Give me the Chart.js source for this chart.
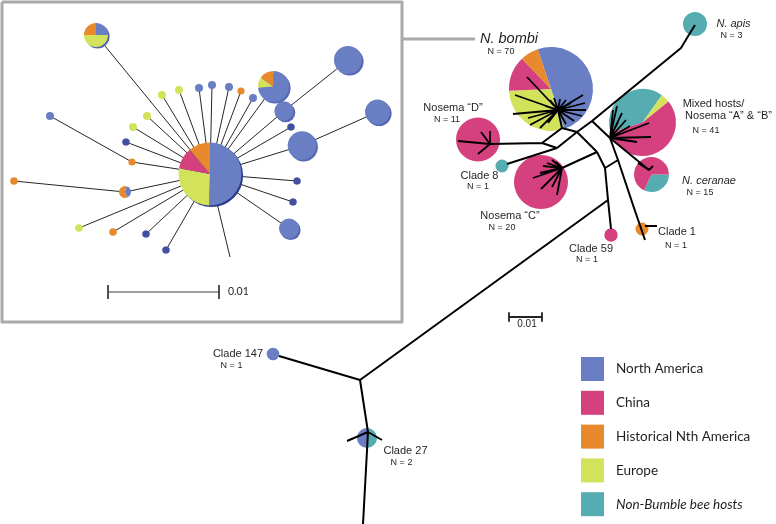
<!DOCTYPE html>
<html>
<head>
<meta charset="utf-8">
<script src="https://cdn.jsdelivr.net/npm/chart.js@4.4.1/dist/chart.umd.min.js"></script>
<style>
  html, body { margin: 0; padding: 0; background: #fff; }
  #wrap { width: 776px; height: 524px; position: relative; }
</style>
</head>
<body>
<div id="wrap"><canvas id="tree"></canvas></div>
<script>
// ─── DATA ──────────────────────────────────────────
// regions (legend order)
const regions = ['North America', 'China', 'Historical Nth America', 'Europe', 'Non-Bumble bee hosts'];

// main network clades
const cladeNames = ['N. bombi', 'Nosema “D”', 'Clade 8', 'Nosema “C”', 'Mixed hosts/', 'N. ceranae', 'Clade 59', 'Clade 1', 'N. apis', 'Clade 147', 'Clade 27'];
const cladeN = [70, 11, 1, 20, 41, 15, 1, 1, 3, 1, 2];
const cladeX = [551, 478, 502, 541, 642.5, 651.5, 611, 642, 695, 273, 367];
const cladeY = [89, 139.5, 166, 182, 122.5, 174.5, 235, 229, 24, 354, 438];
const cladeSize = [42, 22, 6.5, 27, 33.5, 17.5, 6.7, 6.5, 12, 6.3, 10];
// shares per region: NA, China, Hist, Europe, Non-bumble
const cladeShares = [
  [0.5, 0.135, 0.07, 0.295, 0],
  [0, 1, 0, 0, 0],
  [0, 0, 0, 0, 1],
  [0, 1, 0, 0, 0],
  [0, 0.558, 0, 0.044, 0.398],
  [0, 0.68, 0, 0, 0.32],
  [0, 1, 0, 0, 0],
  [0, 0, 1, 0, 0],
  [0, 0, 0, 0, 1],
  [1, 0, 0, 0, 0],
  [0.5, 0, 0, 0, 0.5],
];
const cladeStart = [341.5, 0, 0, 0, 252, 90, 0, 0, 0, 0, 180];

// network edges (polylines, x/y pairs)
const treePaths = [
  [695, 25, 687, 38, 681, 48, 592, 121],
  [592, 121, 610, 138],
  [592, 121, 577, 132],
  [558, 110, 562, 128],
  [562, 128, 577, 132],
  [562, 128, 542, 143],
  [542, 143, 490, 144],
  [542, 143, 557, 148],
  [557, 148, 577, 132],
  [557, 148, 507, 164],
  [577, 132, 597, 152],
  [597, 152, 562, 168],
  [597, 152, 605, 168, 608, 200, 611, 229],
  [605, 168, 618, 160],
  [610, 138, 618, 160, 633, 205, 645, 240],
  [645, 226, 657, 226],
  [610, 138, 649, 170],
  [608, 200, 360, 380],
  [360, 380, 279, 356],
  [360, 380, 368, 432, 363, 524],
  [347, 441, 368, 432, 382, 440],
];

// haplotype stars inside clades: centre + spoke ends
const starCentres = [[558, 110], [490, 144], [562, 168], [610, 138], [649, 170]];
const starEnds = [
  [527, 77, 515, 95, 513, 114, 530, 125, 540, 128, 548, 123, 583, 95, 585, 103, 586, 110, 582, 116, 574, 121, 566, 124,
   550, 100, 554, 98, 560, 99, 566, 100, 571, 103, 545, 106, 536, 112, 528, 118],
  [458, 141, 478, 154, 481, 132, 490, 131],
  [533, 178, 541, 189, 557, 195, 552, 187, 547, 163, 552, 160, 556, 162, 543, 166, 540, 173],
  [613, 110, 617, 106, 622, 113, 626, 120, 630, 126, 649, 123, 651, 137, 637, 142, 618, 122],
  [638, 163, 643, 166, 653, 166],
];

// inset: N. bombi haplotypes
const insetX = [210, 96, 273.5, 284, 348, 302, 377.5, 289, 162, 179, 199, 212, 229, 241, 253, 291, 297, 293, 147, 133, 126, 132, 50, 125, 14, 79, 113, 146, 166];
const insetY = [174, 35, 86.5, 111, 60, 145.5, 112, 228.5, 95, 90, 88, 85, 87, 91, 98, 127, 181, 202, 116, 127, 142, 162, 116, 192, 181, 228, 232, 234, 250];
const insetSize = [31.5, 12, 15.5, 9.7, 14, 14.3, 12.5, 10, 4, 4, 4, 4, 4, 3.6, 4, 3.6, 3.6, 3.6, 4, 4, 3.6, 3.6, 4, 6, 3.8, 3.8, 3.8, 3.6, 3.6];
const insetParent = [-1, 0, 0, 0, 3, 0, 5, 0, 0, 0, 0, 0, 0, 0, 0, 0, 0, 0, 0, 0, 0, 0, 21, 0, 23, 0, 0, 0, 0];
// region index, or shares array for mixed haplotypes
const insetRegion = [
  [0.505, 0.11, 0.111, 0.274, 0],
  [0.25, 0, 0.25, 0.5, 0],
  [0.736, 0, 0.153, 0.111, 0],
  0, 0, 0, 0, 0,
  3, 3, 0, 0, 0, 2, 0, 0, 0, 0,
  3, 3, 0, 2, 0,
  [0.4, 0, 0.6, 0, 0],
  2, 3, 2, 0, 0,
];
const insetStart = [0, 0, 0, 0, 0, 0, 0, 0, 0, 0, 0, 0, 0, 0, 0, 0, 0, 0, 0, 0, 0, 0, 0, 15, 0, 0, 0, 0, 0];
const insetStub = [210, 174, 230, 257];

const scaleLabel = '0.01';

// ─── STYLE / LAYOUT ────────────────────────────────
const regionColors = ['#6a7ec3', '#d5407e', '#e88a2c', '#d3e25b', '#56adb1'];
const darkBlue = '#43509f';
const darkDots = [15, 16, 17, 20, 27, 28];
const sliceOrder = [0, 4, 3, 1, 2];   // clockwise drawing order in each pie
const frameGray = '#a9a9a9';
const treeFont = '"Liberation Sans", Arial, sans-serif';
const legendFont = 'Lato, "Open Sans", sans-serif';

// label anchors (centre x, middle y): [name, N]
const labelPos = [
  [[509, 39], [501, 52]],
  [[453, 108], [447, 119.5]],
  [[479.5, 176], [478, 187]],
  [[510, 216], [502, 228]],
  [[713.5, 104], [706, 131]],
  [[709, 181], [700, 193]],
  [[591, 249], [587, 260]],
  [[677, 232], [676, 245.5]],
  [[733.5, 24], [731.5, 36]],
  [[238, 354], [231.5, 366]],
  [[405.5, 451], [401.5, 463]],
];
const italicNames = [0, 5, 8];

function toPoints(paths) {
  const pts = [];
  paths.forEach(p => {
    for (let i = 0; i < p.length; i += 2) pts.push({ x: p[i], y: p[i + 1] });
    pts.push({ x: null, y: null });
  });
  return pts;
}

function starPaths() {
  const out = [];
  starCentres.forEach((c, s) => {
    const e = starEnds[s];
    for (let i = 0; i < e.length; i += 2) out.push([c[0], c[1], e[i], e[i + 1]]);
  });
  return out;
}

function insetPaths() {
  const out = [];
  insetParent.forEach((p, i) => {
    if (p < 0) return;
    out.push([insetX[p], insetY[p], insetX[i], insetY[i]]);
  });
  out.push(insetStub);
  return out;
}

const framePaths = [[2, 2, 402, 2, 402, 322, 2, 322, 2, 2], [402, 39, 475, 39]];
const mainBar = [[509, 317, 542, 317], [509, 313, 509, 321], [542, 313, 542, 321]];
const insetBar = [[108, 292, 219, 292], [108, 285, 108, 299], [219, 285, 219, 299]];

function lineSet(paths, color, width, order) {
  return {
    data: toPoints(paths), showLine: true, spanGaps: false, pointRadius: 0,
    borderColor: color, borderWidth: width, borderCapStyle: 'butt', borderJoinStyle: 'round',
    tension: 0, order,
  };
}

// ─── DRAW HELPERS ──────────────────────────────────
function drawPie(chart, x, y, r, shares, start, shadow) {
  const ctx = chart.ctx;
  const xs = chart.scales.x, ys = chart.scales.y;
  const cx = xs.getPixelForValue(x), cy = ys.getPixelForValue(y);
  const rp = Math.abs(xs.getPixelForValue(x + r) - cx);
  if (shadow) {
    ctx.beginPath();
    ctx.arc(cx + 1.6, cy + 1.6, rp, 0, Math.PI * 2);
    ctx.fillStyle = shadow;
    ctx.fill();
  }
  let a = (start - 90) * Math.PI / 180;
  sliceOrder.forEach(k => {
    const v = shares[k];
    if (!v) return;
    const b = a + v * Math.PI * 2;
    ctx.beginPath();
    ctx.moveTo(cx, cy);
    ctx.arc(cx, cy, rp, a, b);
    ctx.closePath();
    ctx.fillStyle = regionColors[k];
    ctx.fill();
    a = b;
  });
}

function text(chart, str, x, y, font, align) {
  const ctx = chart.ctx;
  ctx.font = font;
  ctx.textAlign = align || 'center';
  ctx.textBaseline = 'middle';
  ctx.fillStyle = '#231f20';
  ctx.fillText(str, chart.scales.x.getPixelForValue(x), chart.scales.y.getPixelForValue(y));
}

const networkPlugin = {
  id: 'network',
  beforeDatasetsDraw(chart) {
    cladeNames.forEach((_, i) => drawPie(chart, cladeX[i], cladeY[i], cladeSize[i], cladeShares[i], cladeStart[i]));
  },
  afterDatasetsDraw(chart) {
    const ctx = chart.ctx;
    ctx.save();
    // inset haplotypes
    insetX.forEach((x, i) => {
      const reg = insetRegion[i];
      let shares = reg;
      if (typeof reg === 'number') { shares = [0, 0, 0, 0, 0]; shares[reg] = 1; }
      let shadow = null;
      if (i === 0) shadow = '#2c3a8c';
      else if (insetSize[i] > 8) shadow = '#5567b3';
      drawPie(chart, x, insetY[i], insetSize[i], shares, insetStart[i], shadow);
      if (darkDots.includes(i)) {
        ctx.beginPath();
        const xs = chart.scales.x, ys = chart.scales.y;
        ctx.arc(xs.getPixelForValue(x), ys.getPixelForValue(insetY[i]), insetSize[i], 0, Math.PI * 2);
        ctx.fillStyle = darkBlue;
        ctx.fill();
      }
    });

    // clade labels
    cladeNames.forEach((name, i) => {
      const [nPos, cPos] = labelPos[i];
      const italic = italicNames.includes(i);
      const size = i === 0 ? 14.5 : 11;
      text(chart, name, nPos[0], nPos[1], (italic ? 'italic ' : '') + size + 'px ' + treeFont);
      if (i === 4) text(chart, 'Nosema “A” & “B”', 728.5, 116, '11px ' + treeFont);
      text(chart, 'N = ' + cladeN[i], cPos[0], cPos[1], '9px ' + treeFont);
    });

    // scale bar labels
    text(chart, scaleLabel, 527, 324.5, '10px ' + treeFont);
    text(chart, scaleLabel, 228, 292, '10.5px ' + legendFont, 'left');

    // legend
    const xs = chart.scales.x, ys = chart.scales.y;
    regions.forEach((name, i) => {
      const top = 357 + i * 33.8;
      ctx.fillStyle = regionColors[i];
      const x0 = xs.getPixelForValue(581), y0 = ys.getPixelForValue(top);
      ctx.fillRect(x0, y0, 23, 24);
      text(chart, name, 616, top + 12, (i === 4 ? 'italic ' : '') + '13.5px ' + legendFont, 'left');
    });
    ctx.restore();
  },
};

// ─── CHART ─────────────────────────────────────────
new Chart(document.getElementById('tree'), {
  type: 'scatter',
  data: {
    datasets: [
      lineSet(framePaths, frameGray, 3, 5),
      lineSet(insetPaths(), '#262626', 1, 4),
      lineSet(insetBar, '#3a3a3a', 1, 3),
      lineSet(treePaths, '#000', 2, 2),
      lineSet(starPaths(), '#000', 1.8, 1),
      lineSet(mainBar, '#222', 1.8, 0),
    ],
  },
  options: {
    responsive: true,
    maintainAspectRatio: false,
    animation: false,
    layout: { padding: 0 },
    plugins: { legend: { display: false }, tooltip: { enabled: false } },
    scales: {
      x: { type: 'linear', display: false, min: 0, max: 776 },
      y: { type: 'linear', display: false, min: 0, max: 524, reverse: true },
    },
  },
  plugins: [networkPlugin],
});
</script>
</body>
</html>
